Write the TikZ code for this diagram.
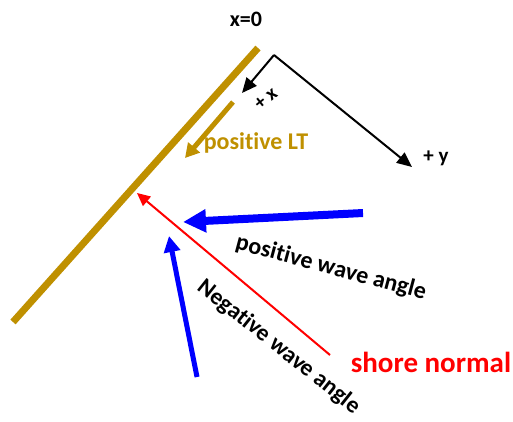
\documentclass[tikz,border=0pt]{standalone}
\usepackage{fontspec}
\setmainfont{Carlito}[Ligatures=NoCommon]
\usetikzlibrary{arrows.meta}
\definecolor{gold}{RGB}{191,144,0}
\definecolor{myblue}{RGB}{0,0,255}
\definecolor{myred}{RGB}{255,0,0}
\tikzset{
  lbl/.style={font=\bfseries, inner sep=0pt},
  axis/.style={draw=black, line width=2pt, -{Triangle[length=15pt,width=13pt]}},
}
\begin{document}
\begin{tikzpicture}[x=1pt,y=-1pt]
\useasboundingbox (0,0) rectangle (513,421);
% shoreline
\coordinate (s1) at (258,48);
\coordinate (s2) at (13,322);
\draw[gold, line width=7pt] (s1) -- (s2);
% axes
\coordinate (o) at (274,55);
\coordinate (xe) at (242,93);
\coordinate (ye) at (412,167);
\draw[axis] (o) -- (xe);
\draw[axis] (o) -- (ye);
\node[lbl, font=\bfseries\fontsize{22}{24}\selectfont] (x0) at (246,19) {x=0};
\node[lbl, font=\bfseries\fontsize{21}{24}\selectfont] (py) at (436,158) {+ y};
\node[lbl, font=\bfseries\fontsize{20}{24}\selectfont, rotate=38] (px) at (266,99) {+ x};
% LT arrow
\coordinate (lt1) at (233,102);
\coordinate (lt2) at (185,158);
\draw[gold, line width=5pt, -{Triangle[length=14pt,width=15pt]}] (lt1) -- (lt2);
\node[lbl, gold, font=\bfseries\fontsize{24}{28}\selectfont] (ltl) at (256,143) {positive LT};
% shore normal
\coordinate (n1) at (330,355);
\coordinate (n2) at (137,193);
\draw[myred, line width=2pt, -{Triangle[length=13pt,width=12pt]}] (n1) -- (n2);
\node[lbl, myred, font=\bfseries\fontsize{29}{32}\selectfont] (snl) at (431,362) {shore normal};
% positive wave
\coordinate (w1) at (363,213);
\coordinate (w2) at (183,222);
\draw[myblue, line width=8pt, -{Triangle[length=23pt,width=22pt]}] (w1) -- (w2);
\node[lbl, font=\bfseries\fontsize{24}{28}\selectfont, rotate=-15] (pwa) at (331,268) {positive wave angle};
% negative wave
\coordinate (v1) at (197,377);
\coordinate (v2) at (169,236);
\draw[myblue, line width=5pt, -{Triangle[length=16pt,width=16pt]}] (v1) -- (v2);
\node[lbl, font=\bfseries\fontsize{23.5}{27}\selectfont, rotate=-38.5] (nwa) at (279,347) {Negative wave angle};
\end{tikzpicture}
\end{document}
